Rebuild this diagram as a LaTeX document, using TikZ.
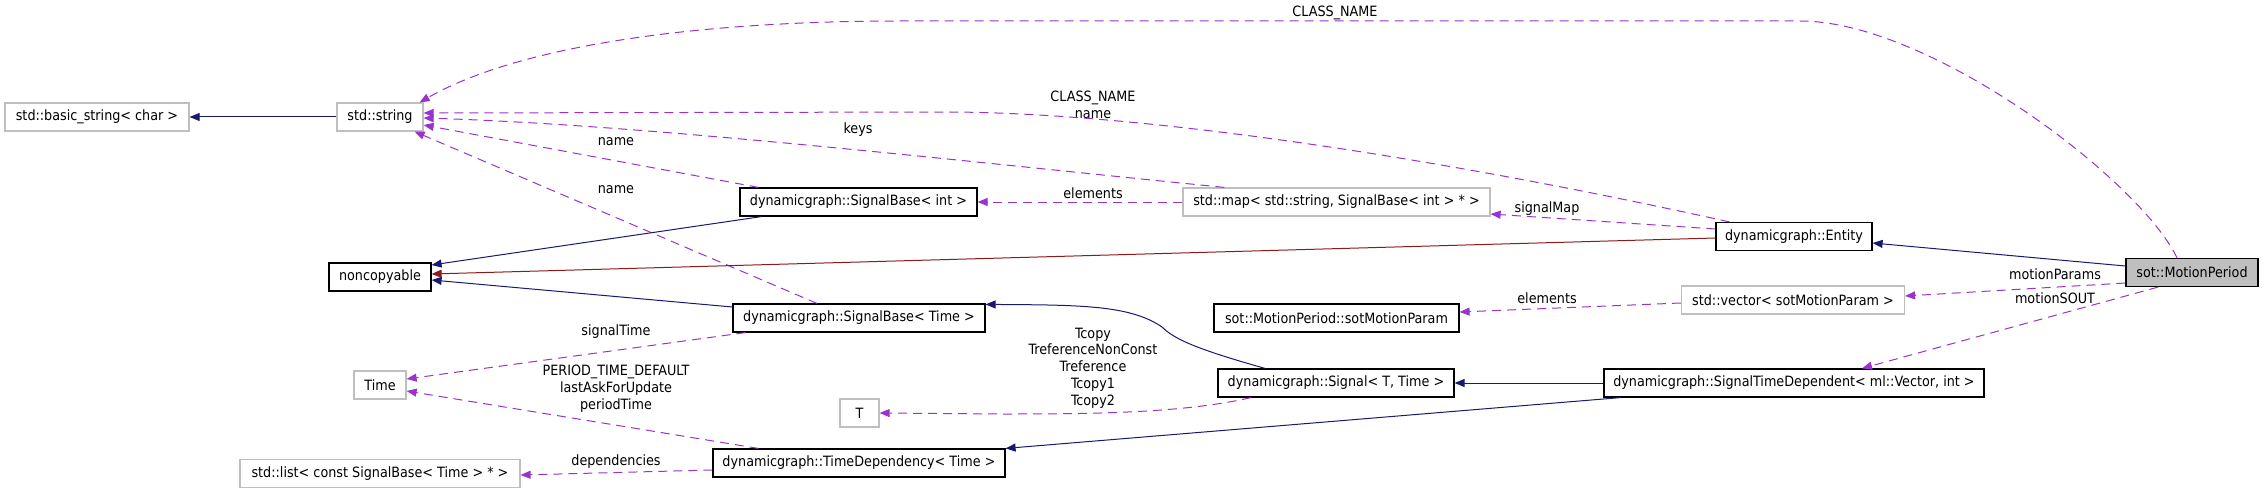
\documentclass[tikz,border=0pt]{standalone}
\usepackage{fontspec}
\setmainfont{DejaVu Sans Condensed}
\usetikzlibrary{arrows.meta,calc}
\definecolor{eblue}{HTML}{191970}
\definecolor{ered}{HTML}{8B1A1A}
\definecolor{epurple}{HTML}{9A32CD}
\definecolor{gborder}{HTML}{BFBFBF}
\definecolor{gfill}{HTML}{BFBFBF}
\begin{document}
\begin{tikzpicture}[x=1pt,y=-1pt,
  every node/.style={font=\fontsize{14.2}{16.8}\selectfont},
  cls/.style={draw=black, line width=1.2pt, minimum height=28pt, inner sep=0pt, fill=white},
  ext/.style={draw=gborder, line width=1.2pt, minimum height=28pt, inner sep=0pt, fill=white},
  lbl/.style={inner sep=0pt, align=center},
  tip/.style={-{Triangle[length=10pt,width=8pt]}},
  inh/.style={tip, draw=eblue, line width=1pt},
  prv/.style={tip, draw=ered, line width=1pt},
  usg/.style={tip, draw=epurple, line width=1pt, dash pattern=on 9pt off 6pt},
]
\useasboundingbox (0,0) rectangle (2264,492);
% nodes
\node[ext, minimum width=184pt] (basic) at (97,117) {std::basic\_string< char >};
\node[ext, minimum width=86pt] (str) at (380,117) {std::string};
\node[cls, minimum width=237pt] (sbint) at (858.5,202) {dynamicgraph::SignalBase< int >};
\node[ext, minimum width=307pt] (map) at (1336.5,202) {std::map< std::string, SignalBase< int > * >};
\node[cls, minimum width=156pt] (entity) at (1794,236.5) {dynamicgraph::Entity};
\node[cls, minimum width=132pt, fill=gfill] (mp) at (2192,272.5) {sot::MotionPeriod};
\node[cls, minimum width=102pt] (noncopy) at (380,277) {noncopyable};
\node[cls, minimum width=252pt] (sbtime) at (859,318) {dynamicgraph::SignalBase< Time >};
\node[cls, minimum width=245pt] (smp) at (1336.5,318) {sot::MotionPeriod::sotMotionParam};
\node[ext, minimum width=223pt] (vec) at (1793,300) {std::vector< sotMotionParam >};
\node[cls, minimum width=236pt] (signal) at (1336,383) {dynamicgraph::Signal< T, Time >};
\node[cls, minimum width=380pt] (stdv) at (1794,383) {dynamicgraph::SignalTimeDependent< ml::Vector, int >};
\node[ext, minimum width=52pt] (time) at (380,385) {Time};
\node[ext, minimum width=39pt] (T) at (859.5,413) {T};
\node[cls, minimum width=292pt] (td) at (859,463) {dynamicgraph::TimeDependency< Time >};
\node[ext, minimum width=280pt] (list) at (380,473.5) {std::list< const SignalBase< Time > * >};
% labels
\node[lbl] (lClass) at (1335,13) {CLASS\_NAME};
\node[lbl] (lCN) at (1093,104.5) {CLASS\_NAME\\name};
\node[lbl] (lKeys) at (858,130) {keys};
\node[lbl] (lName1) at (616,142) {name};
\node[lbl] (lName2) at (616,190) {name};
\node[lbl] (lElem1) at (1093,193) {elements};
\node[lbl] (lSigMap) at (1547,209) {signalMap};
\node[lbl] (lMParams) at (2055,274) {motionParams};
\node[lbl] (lMSOUT) at (2055,298) {motionSOUT};
\node[lbl] (lElem2) at (1547,298) {elements};
\node[lbl] (lSigTime) at (616,332) {signalTime};
\node[lbl] (lT) at (1093,368) {Tcopy\\TreferenceNonConst\\Treference\\Tcopy1\\Tcopy2};
\node[lbl] (lPer) at (616,389) {PERIOD\_TIME\_DEFAULT\\lastAskForUpdate\\periodTime};
\node[lbl] (lDep) at (616,462) {dependencies};
% edges
\draw[inh] (str.west) -- (basic.east);
\draw[usg] ($(mp.north)+(-15,0)$) .. controls (2140,180) and (1930,21) .. (1800,21) -- (900,21) .. controls (700,21) and (520,45) .. ($(str.north east)+(-4,0)$);
\draw[usg] ($(entity.north west)+(14,0)$) .. controls (1450,160) and (1150,113) .. (950,112) -- ($(str.east)+(0,-4)$);
\draw[usg] ($(map.north west)+(42,0)$) .. controls (950,160) and (650,125) .. ($(str.east)+(0,1)$);
\draw[usg] ($(sbint.north west)+(19,0)$) -- ($(str.east)+(0,8)$);
\draw[usg] ($(sbtime.north)+(-42,0)$) -- ($(str.south east)+(-9,0)$);
\draw[usg] (map.west) -- (sbint.east);
\draw[usg] ($(entity.west)+(0,-7.5)$) -- ($(map.east)+(0,12)$);
\draw[prv] ($(entity.west)+(0,1.5)$) -- ($(noncopy.east)+(0,-3)$);
\draw[inh] ($(mp.west)+(0,-6.5)$) -- ($(entity.east)+(0,6.5)$);
\draw[usg] ($(mp.west)+(0,10.5)$) -- ($(vec.east)+(0,-4)$);
\draw[usg] ($(mp.south)+(-34,0)$) -- ($(stdv.north)+(68,0)$);
\draw[usg] ($(vec.west)+(0,3)$) -- ($(smp.east)+(0,-6)$);
\draw[inh] ($(sbint.south west)+(22,0)$) -- ($(noncopy.east)+(0,-12)$);
\draw[inh] ($(sbtime.west)+(0,-11)$) -- ($(noncopy.east)+(0,3)$);
\draw[usg] ($(sbtime.south west)+(13,0)$) -- ($(time.east)+(0,-6)$);
\draw[inh] ($(signal.north)+(-71,0)$) .. controls (1200,350) and (1175,340) .. (1162,327) .. controls (1130,305) and (1080,305) .. ($(sbtime.north east)+(0,1)$);
\draw[usg] ($(signal.south)+(-85,0)$) .. controls (1180,414) and (1080,414) .. (1000,414) -- (T.east);
\draw[inh] (stdv.west) -- (signal.east);
\draw[inh] ($(stdv.south west)+(17,0)$) -- (td.north east);
\draw[usg] ($(td.north west)+(46,0)$) -- ($(time.east)+(0,6)$);
\draw[usg] ($(td.west)+(0,7)$) -- ($(list.east)+(0,1.5)$);
\end{tikzpicture}
\end{document}
